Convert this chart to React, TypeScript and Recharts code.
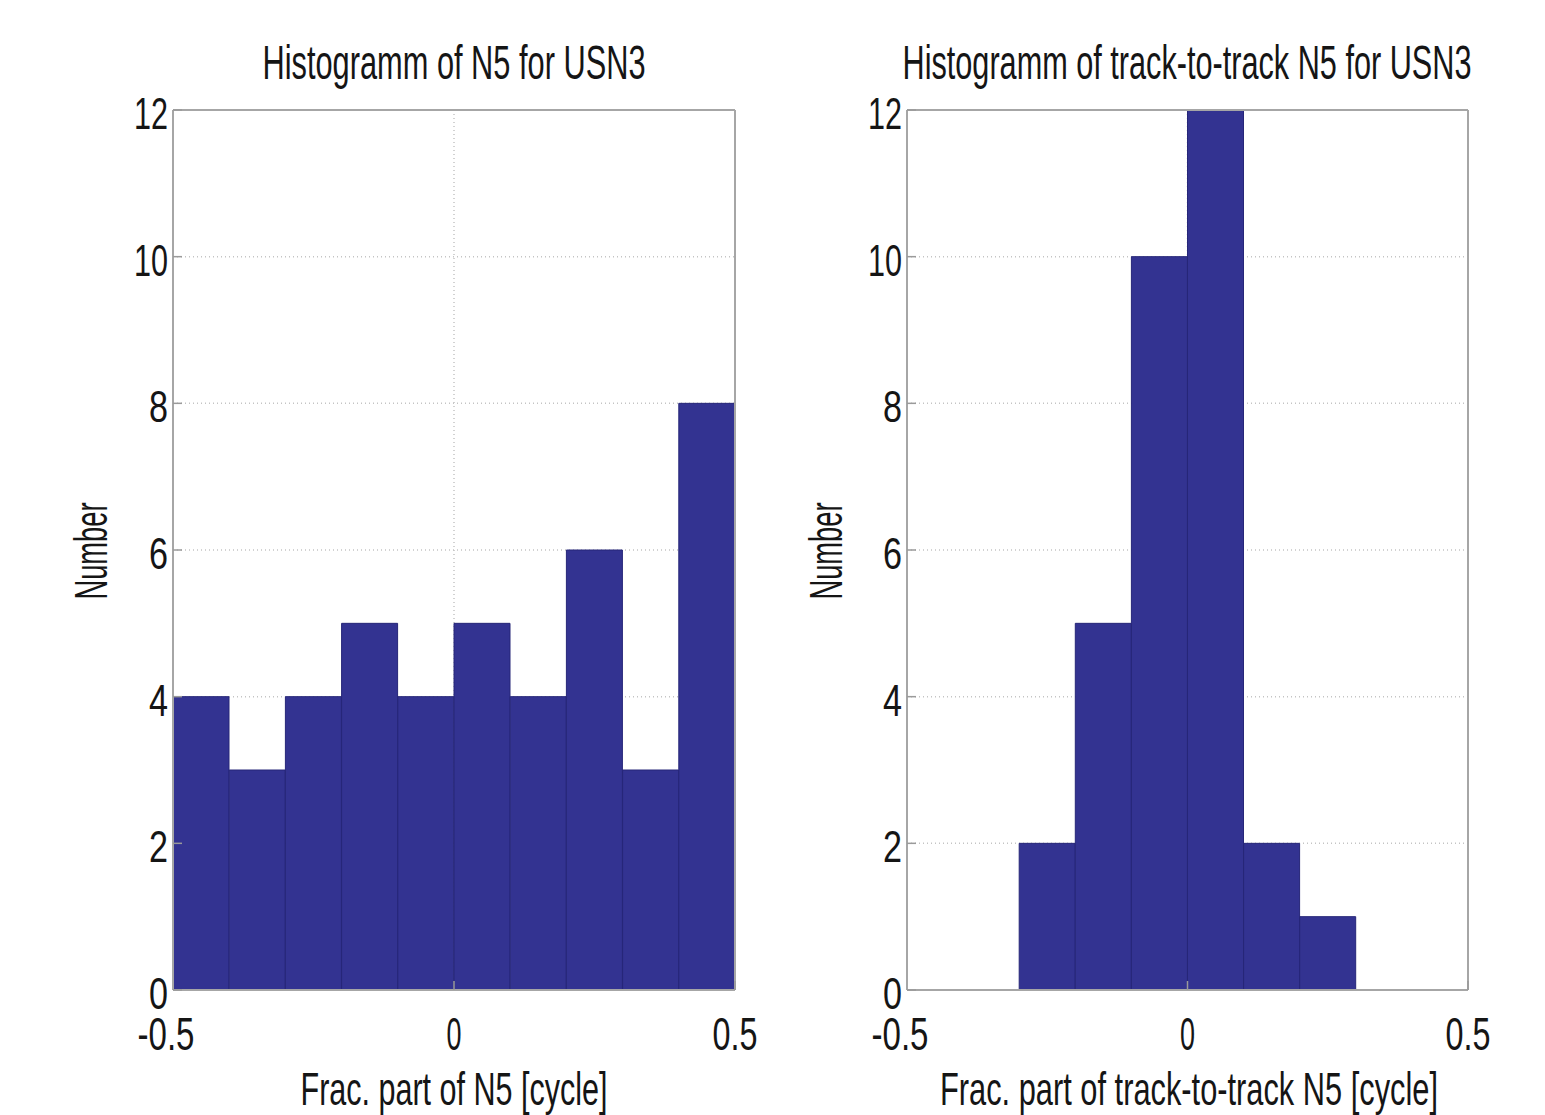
import React from 'react';
import { BarChart, Bar, XAxis, YAxis, CartesianGrid, ReferenceLine } from 'recharts';

const binCenters = [-0.45, -0.35, -0.25, -0.15, -0.05, 0.05, 0.15, 0.25, 0.35, 0.45];
const leftCounts = [4, 3, 4, 5, 4, 5, 4, 6, 3, 8];
const rightCounts = [0, 0, 2, 5, 10, 12, 2, 1, 0, 0];
const xTicks = [-0.5, 0, 0.5];
const yTicks = [0, 2, 4, 6, 8, 10, 12];
const leftTitle = 'Histogramm of N5 for USN3';
const rightTitle = 'Histogramm of track-to-track N5 for USN3';
const leftXLabel = 'Frac. part of N5 [cycle]';
const rightXLabel = 'Frac. part of track-to-track N5 [cycle]';
const yLabel = 'Number';

const leftData = binCenters.map((x, i) => ({ x, n: leftCounts[i] }));
const rightData = binCenters.map((x, i) => ({ x, n: rightCounts[i] }));

const FONT = '"Liberation Sans", Arial, sans-serif';
const TEXT = '#151515';
const BAR = '#333391';
const FRAME = '#a6a6a6';
const SX = 0.62;

function NText({ x, y, w, size, anchor = 'middle', rotate = false, children }: any) {
  const tf = rotate
    ? `translate(${x} ${y}) rotate(-90) scale(${SX} 1)`
    : `translate(${x} ${y}) scale(${SX} 1)`;
  return (
    <text
      x={0}
      y={0}
      fontSize={size}
      fontFamily={FONT}
      fill={TEXT}
      textAnchor={anchor}
      textLength={w / SX}
      lengthAdjust="spacingAndGlyphs"
      transform={tf}
    >
      {children}
    </text>
  );
}

const xTickWidths: Record<string, number> = { '-0.5': 57, '0': 15, '0.5': 45 };

function XTick(props: any) {
  const { x, y, payload } = props;
  const label = String(payload.value);
  const dx = label.startsWith('-') ? -7 : 0;
  return (
    <NText x={x + dx} y={y + 60} w={xTickWidths[label] ?? 15 * label.length} size={46}>
      {label}
    </NText>
  );
}

function YTick(props: any) {
  const { x, y, payload } = props;
  const label = String(payload.value);
  return (
    <NText x={x} y={y + 19} w={label.length === 1 ? 19 : 34} size={45} anchor="end">
      {label}
    </NText>
  );
}

function Hist({ data, yAxisWidth, rightMargin }: any) {
  return (
    <BarChart
      width={772}
      height={1115}
      data={data}
      margin={{ top: 110, right: rightMargin, bottom: 0, left: 0 }}
      barCategoryGap={0}
      barGap={0}
    >
      <CartesianGrid stroke="#c4c4c4" strokeDasharray="1 3" strokeWidth={1.5} />
      <XAxis
        dataKey="x"
        type="number"
        domain={[-0.5, 0.5]}
        ticks={xTicks}
        allowDataOverflow
        height={125}
        tickSize={-9}
        tickMargin={9}
        tick={<XTick />}
        axisLine={{ stroke: FRAME, strokeWidth: 2 }}
        tickLine={{ stroke: '#9a9a9a', strokeWidth: 1.5 }}
      />
      <YAxis
        type="number"
        domain={[0, 12]}
        ticks={yTicks}
        width={yAxisWidth}
        tickSize={-9}
        tickMargin={14}
        tick={<YTick />}
        axisLine={{ stroke: FRAME, strokeWidth: 2 }}
        tickLine={{ stroke: '#9a9a9a', strokeWidth: 1.5 }}
      />
      <Bar dataKey="n" fill={BAR} stroke="#262678" strokeWidth={1} isAnimationActive={false} />
      <ReferenceLine y={12} stroke={FRAME} strokeWidth={2} />
      <ReferenceLine x={0.5} stroke={FRAME} strokeWidth={2} />
    </BarChart>
  );
}

export default function App() {
  return (
    <div style={{ position: 'absolute', left: 0, top: 0, width: 1545, height: 1115, background: '#fff' }}>
      <div style={{ position: 'absolute', left: 0, top: 0 }}>
        <Hist data={leftData} yAxisWidth={173} rightMargin={37} />
      </div>
      <div style={{ position: 'absolute', left: 773, top: 0 }}>
        <Hist data={rightData} yAxisWidth={134} rightMargin={77} />
      </div>
      <svg
        width={1545}
        height={1115}
        style={{ position: 'absolute', left: 0, top: 0, pointerEvents: 'none' }}
      >
        <NText x={454} y={79} w={383} size={48}>{leftTitle}</NText>
        <NText x={1187} y={79} w={569} size={48}>{rightTitle}</NText>
        <NText x={454} y={1105} w={307} size={46}>{leftXLabel}</NText>
        <NText x={1189} y={1105} w={498} size={46}>{rightXLabel}</NText>
        <NText x={107} y={551} w={97} size={46} rotate>{yLabel}</NText>
        <NText x={842} y={551} w={97} size={46} rotate>{yLabel}</NText>
      </svg>
    </div>
  );
}
